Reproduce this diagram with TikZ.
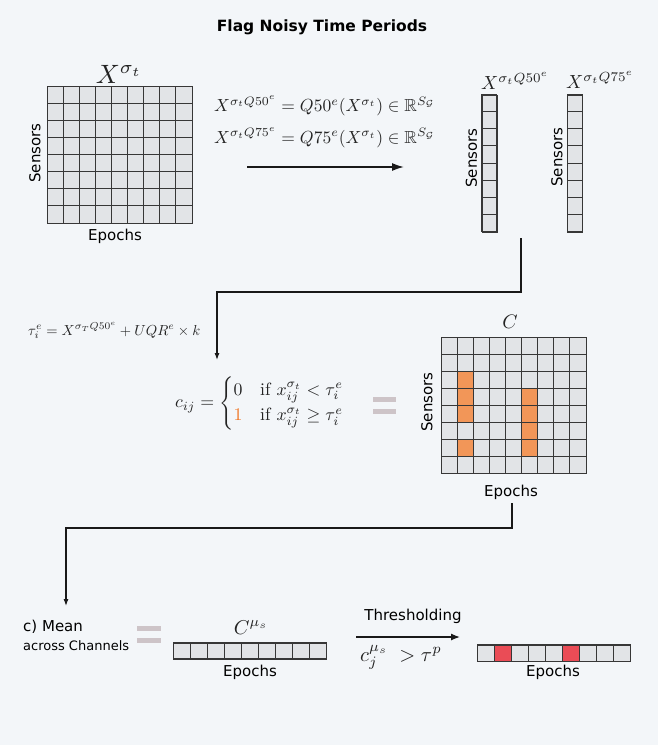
\documentclass[tikz,border=0pt]{standalone}
\usepackage{amsmath,amssymb}
\usepackage{graphicx}
\usepackage{fontspec}
\newfontfamily\dv{DejaVu Sans}
\usetikzlibrary{arrows.meta}
\definecolor{bgc}{RGB}{243,246,249}
\definecolor{cellc}{RGB}{226,228,231}
\definecolor{gridc}{RGB}{55,55,55}
\definecolor{orngc}{RGB}{242,150,88}
\definecolor{redc}{RGB}{234,76,86}
\definecolor{onec}{RGB}{240,120,40}
\definecolor{eqc}{RGB}{205,196,200}
\definecolor{linec}{RGB}{25,25,25}
\definecolor{mathc}{RGB}{35,35,35}
\newcommand\mygrid[6]{%
  \foreach \i in {1,...,#3}{\foreach \j in {1,...,#4}{%
    \draw[cellst] ({#1+(\i-1)*#5},{#2+(\j-1)*#6}) rectangle ++(#5,#6);}}}
\newcommand\mycell[7]{% x0,y0,cw,ch,col,row,color
  \draw[cellst,fill=#7] ({#1+#5*#3},{#2+#6*#4}) rectangle ++(#3,#4);}
\newcommand\smath[2]{\scalebox{#1}{$#2$}}
\tikzset{
  cellst/.style={draw=gridc,fill=cellc,line width=0.8pt},
  frame/.style={draw=gridc,line width=1pt,inner sep=0pt,anchor=north west},
  lab/.style={font=\dv\fontsize{15}{18}\selectfont,inner sep=0pt},
  smalllab/.style={font=\dv\fontsize{13}{16}\selectfont,inner sep=0pt},
  mth/.style={inner sep=0pt,text=mathc,font=\fontsize{10}{12}\selectfont},
  conn/.style={draw=linec,line width=1.1pt,-{Latex[length=7pt,width=5pt]}},
  eqbar/.style={draw=eqc,line width=5pt}
}
\begin{document}
\begin{tikzpicture}[x=1pt,y=-1pt]
\fill[bgc] (0,0) rectangle (658,745);
\useasboundingbox (0,0) rectangle (658,745);

% title
\node[font=\dv\bfseries\fontsize{15.5}{18}\selectfont,inner sep=0pt,anchor=base] (title) at (322,31.5) {Flag Noisy Time Periods};

% grid X
\mygrid{47}{86}{9}{8}{16.111}{17.125}
\node[frame,minimum width=145pt,minimum height=137pt] (X) at (47,86) {};
\node[mth,anchor=base] (Xlab) at (119,83) {\smath{2.65}{X^{\sigma_t}}};
\node[lab,rotate=90] (Xsens) at (35,153) {Sensors};
\node[lab,anchor=base] (Xep) at (115,240) {Epochs};

% formulas
\node[mth,anchor=base west] (f1) at (214,111.5) {\smath{1.75}{X^{\sigma_t Q50^e} = Q50^e(X^{\sigma_t}) \in \mathbb{R}^{S_{\mathcal{G}}}}};
\node[mth,anchor=base west] (f2) at (214,143) {\smath{1.75}{X^{\sigma_t Q75^e} = Q75^e(X^{\sigma_t}) \in \mathbb{R}^{S_{\mathcal{G}}}}};
\coordinate (a1s) at (247,167);
\coordinate (a1e) at (404,167);
\draw[draw=linec,line width=1.6pt,-{Latex[length=12pt,width=8pt]}] (a1s) -- (a1e);

% vectors
\mygrid{481.5}{94.5}{1}{8}{15}{17.125}
\node[frame,minimum width=15pt,minimum height=137pt] (V1) at (481.5,94.5) {};
\mygrid{567}{94.5}{1}{8}{15}{17.125}
\node[frame,minimum width=15pt,minimum height=137pt] (V2) at (567,94.5) {};
\node[mth,anchor=base west] (V1lab) at (481,89) {\smath{1.9}{X^{\sigma_t Q50^e}}};
\node[mth,anchor=base west] (V2lab) at (566,88) {\smath{1.9}{X^{\sigma_t Q75^e}}};
\node[lab,rotate=90] (V1sens) at (471.5,158) {Sensors};
\node[lab,rotate=90] (V2sens) at (557,157) {Sensors};

% connector 1
\coordinate (c1a) at (521,238);
\coordinate (c1b) at (521,292);
\coordinate (c1c) at (217,292);
\coordinate (c1d) at (217,360);
\draw[conn] (c1a) -- (c1b) -- (c1c) -- (c1d);

% tau
\node[mth,anchor=base west] (tau) at (28,335) {\smath{1.45}{\tau_i^e = X^{\sigma_T Q50^e} + UQR^e \times k}};

% cases
\node[mth,anchor=west] (cases) at (175,403) {\smath{1.78}{c_{ij} = \begin{cases} 0 & \text{if } x_{ij}^{\sigma_t} < \tau_i^e \\ \textcolor{onec}{1} & \text{if } x_{ij}^{\sigma_t} \geq \tau_i^e \end{cases}}};
\draw[eqbar] (373,399.5) -- (396,399.5);
\draw[eqbar] (373,411.5) -- (396,411.5);

% C grid
\mygrid{441}{337}{9}{8}{16.111}{17}
\foreach \r in {2,3,4,6}{\mycell{441}{337}{16.111}{17}{1}{\r}{orngc}}
\foreach \r in {3,4,5,6}{\mycell{441}{337}{16.111}{17}{5}{\r}{orngc}}
\node[frame,minimum width=145pt,minimum height=136pt] (C) at (441,337) {};
\node[mth,anchor=base] (Clab) at (510,328) {\smath{1.95}{C}};
\node[lab,rotate=90] (Csens) at (427,402) {Sensors};
\node[lab,anchor=base] (Cep) at (511,496.5) {Epochs};

% connector 2
\coordinate (c2a) at (512,503);
\coordinate (c2b) at (512,528);
\coordinate (c2c) at (66,528);
\coordinate (c2d) at (66,606);
\draw[conn] (c2a) -- (c2b) -- (c2c) -- (c2d);

% bottom
\node[lab,anchor=base west] (mean) at (23,631.5) {c) Mean};
\node[smalllab,anchor=base west] (across) at (23,650.5) {across Channels};
\draw[eqbar] (137,628.5) -- (160.5,628.5);
\draw[eqbar] (137,640.5) -- (160.5,640.5);

\mygrid{173}{642.5}{9}{1}{17}{16}
\node[frame,minimum width=153pt,minimum height=16pt] (Cmu) at (173,642.5) {};
\node[mth,anchor=base] (Cmulab) at (251,634) {\smath{2.0}{C^{\mu_s}}};
\node[lab,anchor=base] (Cmuep) at (250,676) {Epochs};

\node[lab,anchor=base] (thr) at (413,620.5) {Thresholding};
\coordinate (a2s) at (356,637);
\coordinate (a2e) at (460,637);
\draw[draw=linec,line width=1.3pt,-{Latex[length=9pt,width=7pt]}] (a2s) -- (a2e);
\node[mth,anchor=base] (thrf) at (401,661) {\smath{2.05}{c_j^{\mu_s} \; > \tau^p}};

\mygrid{477}{644.5}{9}{1}{17}{16.5}
\mycell{477}{644.5}{17}{16.5}{1}{0}{redc}
\mycell{477}{644.5}{17}{16.5}{5}{0}{redc}
\node[frame,minimum width=153pt,minimum height=16.5pt] (R) at (477,644.5) {};
\node[lab,anchor=base] (Rep) at (553,676) {Epochs};
\end{tikzpicture}
\end{document}
